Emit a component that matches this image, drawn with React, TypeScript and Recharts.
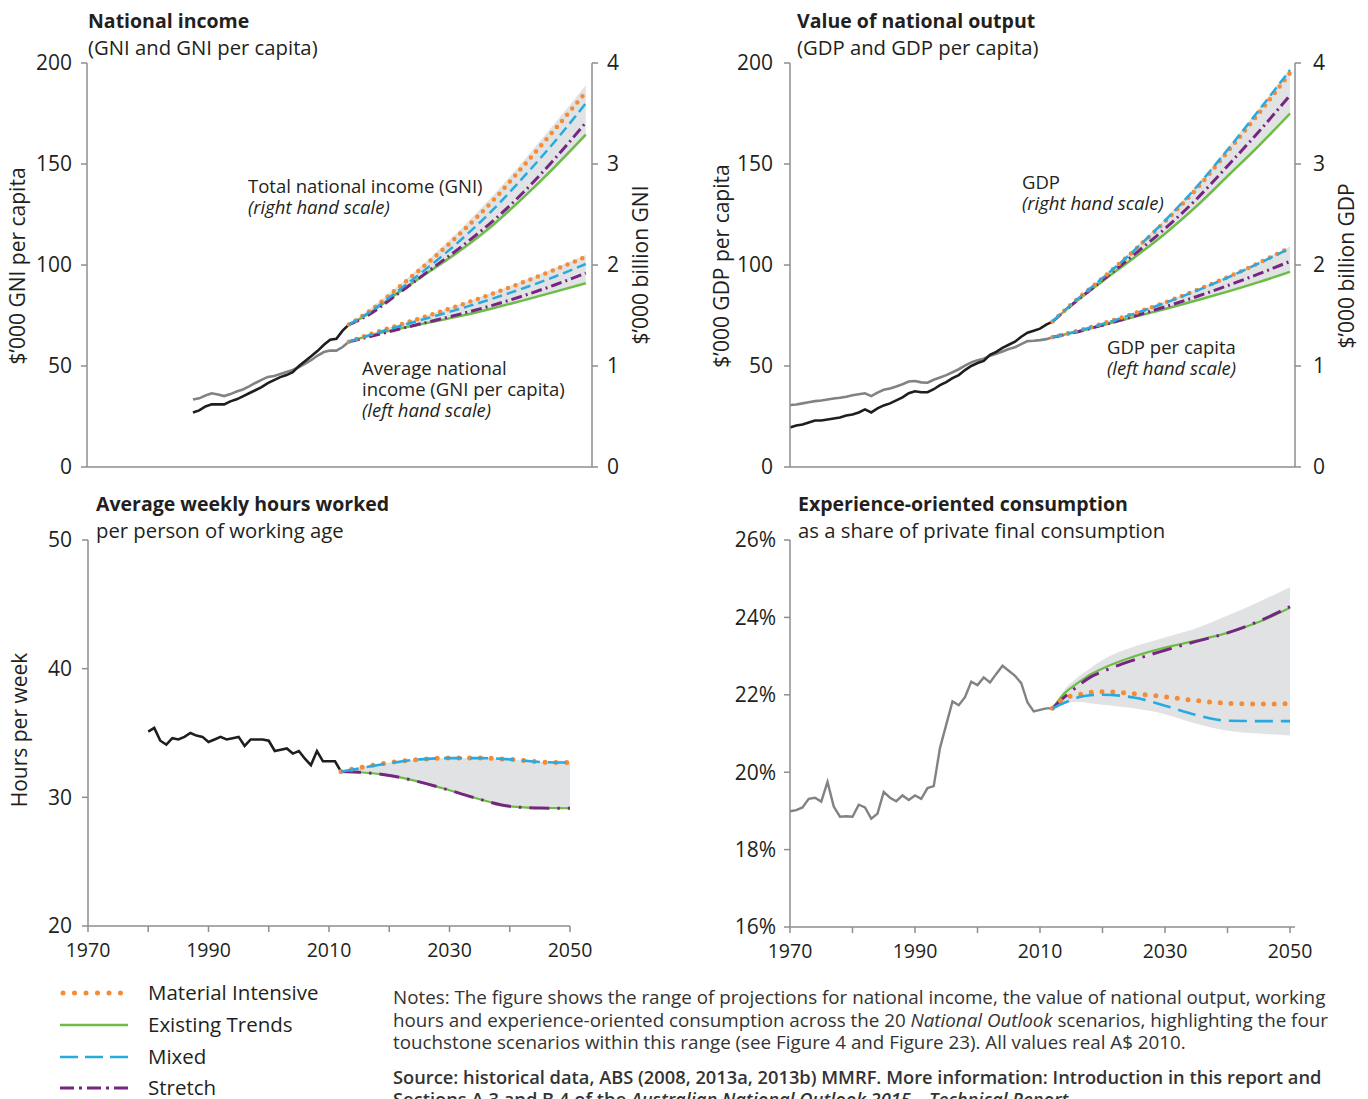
import React from 'react';
import { Area, ComposedChart, Line, XAxis, YAxis } from 'recharts';

const FONT = "'Open Sans', 'Noto Sans', sans-serif";
const INK = '#231F20';
const AXIS = '#8E8E8E';
const ORANGE = '#F58B35';
const GREEN = '#6CBD45';
const BLUE = '#27AAE1';
const PURPLE = '#772583';
const BAND = '#E1E2E3';
const HIST_BLACK = '#1E1E1E';
const HIST_GREY = '#808285';

// ---- National income (GNI) ----
const gniHistYears = [
  1987, 1988, 1989, 1990, 1991, 1992, 1993, 1994, 1995, 1996, 1997, 1998, 1999,
  2000, 2001, 2002, 2003, 2004, 2005, 2006, 2007, 2008, 2009, 2010, 2011, 2012,
];
const gniPerCapitaHist = [
  33.4, 34.0, 35.4, 36.5, 35.9, 35.1, 36.1, 37.4, 38.4, 39.9, 41.6, 43.1, 44.6,
  45.0, 46.0, 47.0, 48.0, 49.5, 51.2, 53.0, 55.2, 56.9, 57.7, 57.6, 59.4, 62.0,
];
const gniTotalHist = [
  0.54, 0.56, 0.6, 0.62, 0.62, 0.62, 0.65, 0.67, 0.7, 0.73, 0.76, 0.79, 0.83,
  0.86, 0.89, 0.91, 0.94, 1.0, 1.05, 1.1, 1.15, 1.21, 1.26, 1.27, 1.35, 1.41,
];
const projYears = [2012, 2015, 2020, 2025, 2030, 2035, 2040, 2045, 2050];
const gniMaterial = [1.41, 1.53, 1.78, 2.04, 2.32, 2.63, 2.98, 3.34, 3.71];
const gniMixed = [1.41, 1.52, 1.75, 1.99, 2.25, 2.54, 2.87, 3.22, 3.6];
const gniStretch = [1.41, 1.5, 1.72, 1.95, 2.18, 2.43, 2.72, 3.05, 3.41];
const gniExisting = [1.41, 1.51, 1.73, 1.94, 2.15, 2.39, 2.67, 2.97, 3.29];
const gniRangeHigh = [1.41, 1.55, 1.8, 2.07, 2.36, 2.68, 3.03, 3.4, 3.78];
const gniRangeLow = [1.41, 1.5, 1.71, 1.92, 2.13, 2.37, 2.65, 2.95, 3.27];
const gniPcMaterial = [62, 65.3, 70.3, 75.2, 80.3, 85.8, 91.5, 97.6, 104.0];
const gniPcMixed = [62, 65.0, 69.6, 74.0, 78.5, 83.3, 88.5, 94.2, 100.5];
const gniPcStretch = [62, 64.2, 68.2, 72.0, 75.8, 80.0, 84.8, 90.1, 96.0];
const gniPcExisting = [62, 64.8, 68.5, 71.6, 74.8, 78.5, 82.5, 86.7, 91.0];
const gniPcRangeHigh = [62, 65.5, 70.6, 75.6, 80.8, 86.4, 92.2, 98.5, 105.0];
const gniPcRangeLow = [62, 64.0, 67.8, 71.2, 74.5, 78.2, 82.2, 86.4, 90.7];

// ---- Value of national output (GDP) ----
const gdpHistYears = Array.from({ length: 43 }, (_, i) => 1970 + i);
const gdpPerCapitaHist = [
  30.7, 30.9, 31.5, 32.1, 32.6, 32.9, 33.4, 33.9, 34.3, 34.8,
  35.5, 36.0, 36.5, 35.1, 36.8, 38.2, 38.9, 39.9, 41.0, 42.3,
  42.6, 41.9, 41.7, 43.2, 44.3, 45.5, 46.9, 48.4, 50.2, 51.8,
  52.9, 53.6, 55.1, 56.0, 57.2, 58.4, 59.3, 60.8, 62.3, 62.5,
  62.8, 63.3, 64.2,
];
const gdpTotalHist = [
  0.39, 0.41, 0.42, 0.44, 0.46, 0.46, 0.47, 0.48, 0.49, 0.51,
  0.52, 0.54, 0.57, 0.54, 0.58, 0.61, 0.63, 0.66, 0.69, 0.73,
  0.75, 0.74, 0.74, 0.77, 0.81, 0.84, 0.88, 0.91, 0.96, 1.0,
  1.03, 1.05, 1.11, 1.14, 1.18, 1.21, 1.24, 1.29, 1.33, 1.35,
  1.37, 1.41, 1.44,
];
const gdpMaterial = [1.44, 1.61, 1.87, 2.14, 2.43, 2.75, 3.12, 3.5, 3.9];
const gdpMixed = [1.44, 1.61, 1.87, 2.14, 2.44, 2.77, 3.14, 3.53, 3.93];
const gdpStretch = [1.44, 1.6, 1.85, 2.1, 2.36, 2.65, 2.98, 3.32, 3.68];
const gdpExisting = [1.44, 1.6, 1.84, 2.07, 2.31, 2.58, 2.88, 3.18, 3.5];
const gdpRangeHigh = [1.44, 1.62, 1.88, 2.16, 2.46, 2.79, 3.16, 3.55, 3.95];
const gdpRangeLow = [1.44, 1.59, 1.83, 2.06, 2.3, 2.56, 2.86, 3.16, 3.48];
const gdpPcMaterial = [64.2, 66.6, 71.0, 76.0, 81.5, 87.5, 94.0, 101.0, 108.7];
const gdpPcMixed = [64.2, 66.5, 70.8, 75.8, 81.2, 87.2, 93.7, 100.8, 108.3];
const gdpPcStretch = [64.2, 66.2, 70.2, 74.6, 79.3, 84.3, 89.8, 95.6, 101.8];
const gdpPcExisting = [64.2, 66.3, 70.2, 74.2, 78.2, 82.4, 86.8, 91.5, 96.6];
const gdpPcRangeHigh = [64.2, 66.8, 71.3, 76.4, 82.0, 88.0, 94.6, 101.6, 109.3];
const gdpPcRangeLow = [64.2, 66.0, 69.9, 73.9, 77.9, 82.1, 86.5, 91.2, 96.3];

// ---- Average weekly hours worked ----
const hoursHistYears = Array.from({ length: 33 }, (_, i) => 1980 + i);
const hoursHist = [
  35.1, 35.4, 34.4, 34.1, 34.6, 34.5, 34.7, 35.0, 34.8, 34.7,
  34.3, 34.5, 34.7, 34.5, 34.6, 34.7, 34.0, 34.5, 34.5, 34.5,
  34.4, 33.6, 33.7, 33.8, 33.4, 33.6, 33.0, 32.5, 33.6, 32.8,
  32.8, 32.8, 32.0,
];
const hoursMaterial = [32.0, 32.3, 32.7, 32.95, 33.05, 33.05, 32.95, 32.75, 32.7];
const hoursMixed = [32.0, 32.25, 32.65, 32.95, 33.05, 33.05, 32.95, 32.75, 32.7];
const hoursStretch = [32.0, 31.95, 31.7, 31.2, 30.55, 29.85, 29.3, 29.17, 29.15];
const hoursExisting = [32.0, 31.95, 31.7, 31.2, 30.55, 29.85, 29.3, 29.17, 29.15];
const hoursRangeHigh = [32.0, 32.3, 32.7, 32.95, 33.05, 33.05, 32.95, 32.75, 32.7];
const hoursRangeLow = [32.0, 31.95, 31.7, 31.2, 30.55, 29.85, 29.3, 29.17, 29.15];

// ---- Experience-oriented consumption share (%) ----
const shareHistYears = Array.from({ length: 43 }, (_, i) => 1970 + i);
const shareHist = [
  18.99, 19.02, 19.09, 19.31, 19.34, 19.24, 19.75, 19.11, 18.85, 18.86,
  18.85, 19.16, 19.09, 18.8, 18.93, 19.49, 19.34, 19.25, 19.4, 19.28,
  19.4, 19.31, 19.59, 19.64, 20.63, 21.23, 21.83, 21.73, 21.94, 22.34,
  22.25, 22.45, 22.32, 22.54, 22.75, 22.62, 22.49, 22.3, 21.8, 21.57,
  21.61, 21.65, 21.65,
];
const shareProjYears = [2012, 2014, 2016, 2018, 2020, 2025, 2030, 2035, 2040, 2045, 2050];
const shareMaterial = [21.65, 21.92, 22.0, 22.06, 22.08, 22.03, 21.95, 21.85, 21.78, 21.76, 21.77];
const shareMixed = [21.65, 21.8, 21.93, 21.99, 22.0, 21.93, 21.72, 21.48, 21.33, 21.32, 21.32];
const shareStretch = [21.65, 21.95, 22.22, 22.45, 22.6, 22.9, 23.15, 23.38, 23.6, 23.9, 24.28];
const shareExisting = [21.65, 22.05, 22.3, 22.52, 22.68, 22.99, 23.22, 23.4, 23.6, 23.88, 24.25];
const shareRangeHigh = [21.65, 22.15, 22.45, 22.68, 22.9, 23.24, 23.48, 23.72, 24.05, 24.4, 24.78];
const shareRangeLow = [21.65, 21.78, 21.82, 21.78, 21.74, 21.65, 21.5, 21.25, 21.07, 21.0, 20.95];

const decadeTicks = [1970, 1980, 1990, 2000, 2010, 2020, 2030, 2040, 2050];

type Row = { year: number; [key: string]: number | number[] | undefined };

function buildRows(parts: { years: number[]; series: Record<string, (number | number[])[]> }[]) {
  const map = new Map<number, Row>();
  parts.forEach(({ years, series }) => {
    years.forEach((year, i) => {
      const row = map.get(year) ?? { year };
      Object.entries(series).forEach(([key, values]) => {
        row[key] = values[i];
      });
      map.set(year, row);
    });
  });
  return [...map.values()].sort((a, b) => a.year - b.year);
}

const zip = (low: number[], high: number[]) => low.map((v, i) => [v, high[i]]);

const gniRows = buildRows([
  { years: gniHistYears, series: { pcHist: gniPerCapitaHist, totHist: gniTotalHist } },
  {
    years: projYears,
    series: {
      totBand: zip(gniRangeLow, gniRangeHigh),
      totMI: gniMaterial, totMx: gniMixed, totSt: gniStretch, totET: gniExisting,
      pcBand: zip(gniPcRangeLow, gniPcRangeHigh),
      pcMI: gniPcMaterial, pcMx: gniPcMixed, pcSt: gniPcStretch, pcET: gniPcExisting,
    },
  },
]);

const gdpRows = buildRows([
  { years: gdpHistYears, series: { pcHist: gdpPerCapitaHist, totHist: gdpTotalHist } },
  {
    years: projYears,
    series: {
      totBand: zip(gdpRangeLow, gdpRangeHigh),
      totMI: gdpMaterial, totMx: gdpMixed, totSt: gdpStretch, totET: gdpExisting,
      pcBand: zip(gdpPcRangeLow, gdpPcRangeHigh),
      pcMI: gdpPcMaterial, pcMx: gdpPcMixed, pcSt: gdpPcStretch, pcET: gdpPcExisting,
    },
  },
]);

const hoursRows = buildRows([
  { years: hoursHistYears, series: { hist: hoursHist } },
  {
    years: projYears,
    series: {
      band: zip(hoursRangeLow, hoursRangeHigh),
      MI: hoursMaterial, Mx: hoursMixed, St: hoursStretch, ET: hoursExisting,
    },
  },
]);

const shareRows = buildRows([
  { years: shareHistYears, series: { hist: shareHist } },
  {
    years: shareProjYears,
    series: {
      band: zip(shareRangeLow, shareRangeHigh),
      MI: shareMaterial, Mx: shareMixed, St: shareStretch, ET: shareExisting,
    },
  },
]);

type LineStyle = { stroke: string; strokeWidth: number; strokeDasharray?: string; strokeLinecap?: 'round' | 'butt' };

const topStyles: Record<string, LineStyle> = {
  ET: { stroke: GREEN, strokeWidth: 2.5 },
  St: { stroke: PURPLE, strokeWidth: 3, strokeDasharray: '11 4 2 4' },
  MI: { stroke: ORANGE, strokeWidth: 4.5, strokeDasharray: '0 8', strokeLinecap: 'round' },
  Mx: { stroke: BLUE, strokeWidth: 2.5, strokeDasharray: '10 5' },
};

const wideStyles: Record<string, LineStyle> = {
  ET: { stroke: GREEN, strokeWidth: 2.2 },
  St: { stroke: PURPLE, strokeWidth: 3, strokeDasharray: '20 8 2.5 8' },
  MI: { stroke: ORANGE, strokeWidth: 5, strokeDasharray: '0 10.8', strokeLinecap: 'round' },
  Mx: { stroke: BLUE, strokeWidth: 2.6, strokeDasharray: '18 8' },
};

const legendStyles: Record<string, LineStyle> = {
  ET: { stroke: GREEN, strokeWidth: 2.5 },
  St: { stroke: PURPLE, strokeWidth: 3, strokeDasharray: '14 5 3 5' },
  MI: { stroke: ORANGE, strokeWidth: 5, strokeDasharray: '0 11.5', strokeLinecap: 'round' },
  Mx: { stroke: BLUE, strokeWidth: 2.6, strokeDasharray: '18 7' },
};

const drawOrder = ['ET', 'St', 'MI', 'Mx'];

function scenarioLines(prefix: string, styles: Record<string, LineStyle>, yAxisId?: string) {
  return drawOrder.map((key) => (
    <Line
      key={prefix + key}
      yAxisId={yAxisId ?? 0}
      dataKey={prefix + key}
      type="monotone"
      dot={false}
      activeDot={false}
      connectNulls
      isAnimationActive={false}
      fill="none"
      {...styles[key]}
    />
  ));
}

const tickText = { fill: INK, fontSize: 21 };

function YearTick(props: any) {
  const { x, y, payload } = props;
  if ((payload.value - 1970) % 20 !== 0) return <g />;
  return (
    <text x={x} y={y} dy={21} textAnchor="middle" fill={INK} fontSize={19.5}>
      {payload.value}
    </text>
  );
}

function Txt({ x, y, size = 20.3, bold = false, italic = false, children }: any) {
  return (
    <div
      style={{
        position: 'absolute',
        left: x,
        top: y - size * 0.6,
        fontSize: size,
        lineHeight: `${size * 1.15}px`,
        fontWeight: bold ? 700 : 400,
        fontStyle: italic ? 'italic' : 'normal',
        color: INK,
        whiteSpace: 'nowrap',
      }}
    >
      {children}
    </div>
  );
}

// multi-line annotation block; y is the centre of the first line
function Note({ x, y, lines, italicLast = true }: { x: number; y: number; lines: string[]; italicLast?: boolean }) {
  const size = 18.5;
  return (
    <div
      style={{
        position: 'absolute',
        left: x,
        top: y - 10.5 - 0.03 * size,
        fontSize: size,
        lineHeight: '21px',
        color: INK,
        whiteSpace: 'nowrap',
      }}
    >
      {lines.map((line, i) => (
        <React.Fragment key={i}>
          {i > 0 && <br />}
          {italicLast && i === lines.length - 1 ? <i>{line}</i> : line}
        </React.Fragment>
      ))}
    </div>
  );
}

function VTxt({ x, y, size = 21, children }: any) {
  return (
    <div style={{ position: 'absolute', left: x, top: y, width: 0, height: 0 }}>
      <div
        style={{
          position: 'absolute',
          left: 0,
          top: 0,
          fontSize: size,
          lineHeight: `${size * 1.2}px`,
          color: INK,
          whiteSpace: 'nowrap',
          transform: 'translate(-50%, -50%) rotate(-90deg)',
        }}
      >
        {children}
      </div>
    </div>
  );
}

function LegendKey({ y, label, style }: { y: number; label: string; style: LineStyle }) {
  return (
    <>
      <svg style={{ position: 'absolute', left: 56, top: y - 8 }} width={76} height={16}>
        <line x1={style.strokeLinecap === 'round' ? 7 : 4} y1={8} x2={72} y2={8} {...style} />
      </svg>
      <Txt x={148} y={y} size={20.5}>{label}</Txt>
    </>
  );
}

export default function App() {
  const axisProps = { stroke: AXIS, axisLine: { stroke: AXIS, strokeWidth: 1.5 }, tickLine: { stroke: AXIS, strokeWidth: 1.5 }, tickSize: 6 };
  return (
    <div
      style={{
        position: 'absolute',
        left: 0,
        top: 0,
        width: 1368,
        height: 1099,
        overflow: 'hidden',
        background: '#fff',
        fontFamily: FONT,
        color: INK,
      }}
    >
      {/* Top left: national income */}
      <div style={{ position: 'absolute', left: 0, top: 40 }}>
        <ComposedChart width={640} height={457} data={gniRows} margin={{ top: 23, right: 0, bottom: 0, left: 0 }}>
          <XAxis dataKey="year" type="number" domain={[1970, 2051]} ticks={decadeTicks} tick={false} height={30} {...axisProps} />
          <YAxis yAxisId="left" width={87} domain={[0, 200]} ticks={[0, 50, 100, 150, 200]} tick={tickText} tickMargin={9} {...axisProps} />
          <YAxis yAxisId="right" orientation="right" width={48} domain={[0, 4]} ticks={[0, 1, 2, 3, 4]} tick={tickText} tickMargin={9} {...axisProps} />
          <Area yAxisId="right" dataKey="totBand" type="monotone" stroke="none" fill={BAND} fillOpacity={1} connectNulls isAnimationActive={false} />
          <Area yAxisId="left" dataKey="pcBand" type="monotone" stroke="none" fill={BAND} fillOpacity={1} connectNulls isAnimationActive={false} />
          <Line yAxisId="left" dataKey="pcHist" type="linear" stroke={HIST_GREY} strokeWidth={2.6} dot={false} activeDot={false} isAnimationActive={false} />
          <Line yAxisId="right" dataKey="totHist" type="linear" stroke={HIST_BLACK} strokeWidth={2.6} dot={false} activeDot={false} isAnimationActive={false} />
          {scenarioLines('pc', topStyles, 'left')}
          {scenarioLines('tot', topStyles, 'right')}
        </ComposedChart>
      </div>

      {/* Top right: national output */}
      <div style={{ position: 'absolute', left: 700, top: 40 }}>
        <ComposedChart width={655} height={457} data={gdpRows} margin={{ top: 23, right: 0, bottom: 0, left: 0 }}>
          <XAxis dataKey="year" type="number" domain={[1970, 2050.8]} ticks={decadeTicks} tick={false} height={30} {...axisProps} />
          <YAxis yAxisId="left" width={90} domain={[0, 200]} ticks={[0, 50, 100, 150, 200]} tick={tickText} tickMargin={11} {...axisProps} />
          <YAxis yAxisId="right" orientation="right" width={60} domain={[0, 4]} ticks={[0, 1, 2, 3, 4]} tick={tickText} tickMargin={12} {...axisProps} />
          <Area yAxisId="right" dataKey="totBand" type="monotone" stroke="none" fill={BAND} fillOpacity={1} connectNulls isAnimationActive={false} />
          <Area yAxisId="left" dataKey="pcBand" type="monotone" stroke="none" fill={BAND} fillOpacity={1} connectNulls isAnimationActive={false} />
          <Line yAxisId="left" dataKey="pcHist" type="linear" stroke={HIST_GREY} strokeWidth={2.6} dot={false} activeDot={false} isAnimationActive={false} />
          <Line yAxisId="right" dataKey="totHist" type="linear" stroke={HIST_BLACK} strokeWidth={2.6} dot={false} activeDot={false} isAnimationActive={false} />
          {scenarioLines('pc', topStyles, 'left')}
          {scenarioLines('tot', topStyles, 'right')}
        </ComposedChart>
      </div>

      {/* Bottom left: hours worked */}
      <div style={{ position: 'absolute', left: 0, top: 500 }}>
        <ComposedChart width={610} height={466} data={hoursRows} margin={{ top: 40, right: 40, bottom: 0, left: 0 }}>
          <XAxis dataKey="year" type="number" domain={[1970, 2050]} ticks={decadeTicks} tick={<YearTick />} tickMargin={4} height={40} {...axisProps} />
          <YAxis width={88} domain={[20, 50]} ticks={[20, 30, 40, 50]} tick={tickText} tickMargin={10} {...axisProps} />
          <Area dataKey="band" type="monotone" stroke="none" fill={BAND} fillOpacity={1} connectNulls isAnimationActive={false} />
          <Line dataKey="hist" type="linear" stroke={HIST_BLACK} strokeWidth={2.6} dot={false} activeDot={false} isAnimationActive={false} />
          {scenarioLines('', wideStyles)}
        </ComposedChart>
      </div>

      {/* Bottom right: experience-oriented consumption */}
      <div style={{ position: 'absolute', left: 700, top: 500 }}>
        <ComposedChart width={630} height={467} data={shareRows} margin={{ top: 40, right: 35, bottom: 0, left: 0 }}>
          <XAxis dataKey="year" type="number" domain={[1970, 2050.8]} ticks={decadeTicks} tick={<YearTick />} tickMargin={4} height={40} {...axisProps} />
          <YAxis width={90} domain={[16, 26]} ticks={[16, 18, 20, 22, 24, 26]} tickFormatter={(v: number) => `${v}%`} tick={tickText} tickMargin={8} {...axisProps} />
          <Area dataKey="band" type="monotone" stroke="none" fill={BAND} fillOpacity={1} connectNulls isAnimationActive={false} />
          <Line dataKey="hist" type="linear" stroke={HIST_GREY} strokeWidth={2.4} dot={false} activeDot={false} isAnimationActive={false} />
          {scenarioLines('', wideStyles)}
        </ComposedChart>
      </div>

      {/* Titles */}
      <Txt x={88} y={22} size={19.5} bold>National income</Txt>
      <Txt x={88} y={48}>(GNI and GNI per capita)</Txt>
      <Txt x={797} y={22} size={19.5} bold>Value of national output</Txt>
      <Txt x={797} y={48}>(GDP and GDP per capita)</Txt>
      <Txt x={96} y={505} size={19.5} bold>Average weekly hours worked</Txt>
      <Txt x={96} y={531}>per person of working age</Txt>
      <Txt x={798} y={505} size={19.5} bold>Experience-oriented consumption</Txt>
      <Txt x={798} y={531}>as a share of private final consumption</Txt>

      {/* Axis titles */}
      <VTxt x={18} y={266}>$’000 GNI per capita</VTxt>
      <VTxt x={641} y={265}>$’000 billion GNI</VTxt>
      <VTxt x={722} y={266}>$’000 GDP per capita</VTxt>
      <VTxt x={1347} y={266}>$’000 billion GDP</VTxt>
      <VTxt x={20} y={730}>Hours per week</VTxt>

      {/* In-chart annotations */}
      <Note x={248} y={186} lines={['Total national income (GNI)', '(right hand scale)']} />
      <Note x={362} y={368} lines={['Average national', 'income (GNI per capita)', '(left hand scale)']} />
      <Note x={1022} y={182} lines={['GDP', '(right hand scale)']} />
      <Note x={1107} y={347} lines={['GDP per capita', '(left hand scale)']} />

      {/* Legend */}
      <LegendKey y={993} label="Material Intensive" style={legendStyles.MI} />
      <LegendKey y={1025} label="Existing Trends" style={legendStyles.ET} />
      <LegendKey y={1057} label="Mixed" style={legendStyles.Mx} />
      <LegendKey y={1088} label="Stretch" style={legendStyles.St} />

      {/* Notes */}
      <div style={{ position: 'absolute', left: 393, top: 986, fontSize: 18.8, lineHeight: '22.6px', color: '#333' }}>
        <div style={{ whiteSpace: 'nowrap' }}>
          Notes: The figure shows the range of projections for national income, the value of national output, working
          <br />
          hours and experience-oriented consumption across the 20 <i>National Outlook</i> scenarios, highlighting the four
          <br />
          touchstone scenarios within this range (see Figure 4 and Figure 23). All values real A$ 2010.
        </div>
        <div style={{ whiteSpace: 'nowrap', fontWeight: 600, fontSize: 18.3, marginTop: 12 }}>
          Source: historical data, ABS (2008, 2013a, 2013b) MMRF. More information: Introduction in this report and
          <br />
          Sections A.3 and B.4 of the <i>Australian National Outlook 2015 – Technical Report</i>.
        </div>
      </div>
    </div>
  );
}
